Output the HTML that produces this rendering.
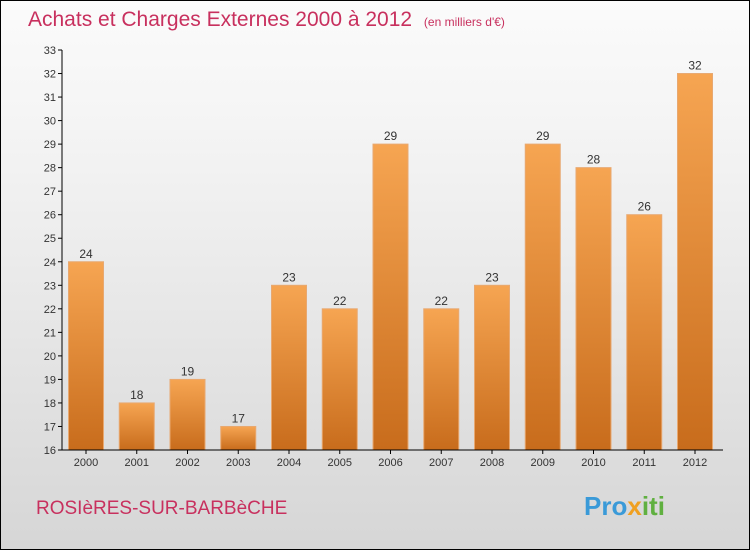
<!DOCTYPE html>
<html><head><meta charset="utf-8"><style>
body{margin:0}
#c{position:relative;width:748px;height:548px;border:1px solid #000;background:linear-gradient(#fbfbfb,#f2f2f2 30%,#d6d6d6);overflow:hidden;font-family:"Liberation Sans",sans-serif}
</style></head><body>
<div id="c">
<svg width="748" height="548" style="position:absolute;left:0;top:0" id="s">
<defs><linearGradient id="g" x1="0" y1="0" x2="0" y2="1"><stop offset="0" stop-color="#f6a552"/><stop offset="1" stop-color="#c86c1c"/></linearGradient></defs>
<text x="27" y="25" font-size="21" fill="#c8305e">Achats et Charges Externes 2000 à 2012 <tspan font-size="12" dx="6">(en milliers d'€)</tspan></text>
<text x="35" y="513" font-size="19" fill="#c8305e">ROSIèRES-SUR-BARBèCHE</text>
<text x="583" y="514" font-size="26" font-weight="bold" fill="#3a9ad8">Pro<tspan fill="#f0a020">x</tspan><tspan fill="#60b040">iti</tspan></text>
</svg>
</div>
<script>
const years=["2000","2001","2002","2003","2004","2005","2006","2007","2008","2009","2010","2011","2012"];
const values=[24,18,19,17,23,22,29,22,23,29,28,26,32];
const yTicks=[16,17,18,19,20,21,22,23,24,25,26,27,28,29,30,31,32,33];
const s=document.getElementById('s'),NS="http://www.w3.org/2000/svg";
const y=v=>449-(v-16)*(400/17);
const x=i=>85+i*50.75;
function mk(t,a,txt){const e=document.createElementNS(NS,t);for(const k in a)e.setAttribute(k,a[k]);if(txt!=null)e.textContent=txt;s.appendChild(e);return e;}
yTicks.forEach(v=>{
const l=mk('line',{x1:57,x2:61,y1:y(v),y2:y(v),stroke:'#000'});


const t=mk('text',{x:55,y:y(v)+4,'font-size':11,fill:'#333','text-anchor':'end'},v);


});
values.forEach((v,i)=>{
const r=mk('rect',{x:x(i)-17.5,y:y(v),width:35,height:449-y(v),fill:'url(#g)',stroke:'#e8a870','stroke-width':1});


const t=mk('text',{x:x(i),y:y(v)-4,'font-size':12,fill:'#333','text-anchor':'middle'},v);


const tk=mk('line',{x1:x(i),x2:x(i),y1:449,y2:453,stroke:'#000'});


const xl=mk('text',{x:x(i),y:465,'font-size':11,fill:'#333','text-anchor':'middle'},years[i]);


});
const ya=mk('line',{x1:61,x2:61,y1:y(33),y2:449,stroke:'#000'});


const xa=mk('line',{x1:61,x2:722,y1:449,y2:449,stroke:'#000'});


</script>
</body></html>
